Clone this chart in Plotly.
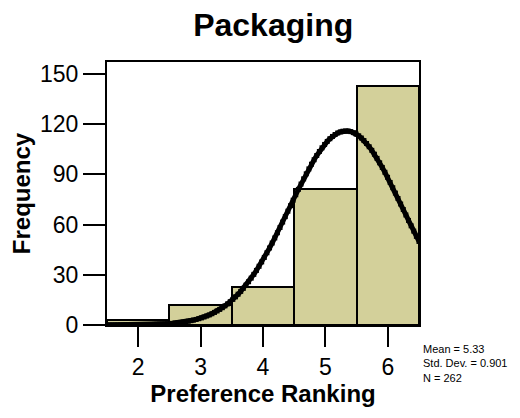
import numpy as np
import plotly.graph_objects as go

categories = [2, 3, 4, 5, 6]
frequencies = [3, 12, 23, 81, 143]
mean_val = 5.33
std_dev = 0.901
n_total = 262
y_ticks = [0, 30, 60, 90, 120, 150]
x_ticks = [2, 3, 4, 5, 6]

# normal curve fitted from the stated mean / sd / N (bin width 1)
xc = np.linspace(1.5, 6.5, 120)
yc = n_total * 1.0 / (std_dev * np.sqrt(2 * np.pi)) * np.exp(-0.5 * ((xc - mean_val) / std_dev) ** 2)

fig = go.Figure()
fig.add_trace(go.Bar(
    x=categories, y=frequencies, width=1.0,
    marker=dict(color="#D3D09A", line=dict(color="black", width=2)),
    showlegend=False,
))
fig.add_trace(go.Scatter(
    x=xc, y=yc, mode="lines+markers",
    line=dict(color="black", width=5),
    marker=dict(symbol="square", size=5, color="black"),
    showlegend=False,
))

font = "Liberation Sans, Arial, sans-serif"
fig.update_layout(
    width=512, height=410,
    margin=dict(l=99, r=101, t=54, b=93, autoexpand=False),
    paper_bgcolor="white", plot_bgcolor="white",
    bargap=0,
    title=dict(text="<b>Packaging</b>", x=0.518, xanchor="center", y=0.958, yanchor="middle",
               font=dict(family=font, size=32, color="black")),
    xaxis=dict(range=[1.5, 6.5], tickvals=x_ticks, ticks="outside", ticklen=20, tickwidth=2,
               tickcolor="black", showline=True, linecolor="black", linewidth=2, mirror=True,
               showgrid=False, zeroline=False,
               tickfont=dict(family=font, size=23, color="black"),
               title=dict(text="<b>Preference Ranking</b>", standoff=2,
                          font=dict(family=font, size=24, color="black"))),
    yaxis=dict(range=[0, 157.2], tickvals=y_ticks, ticks="outside", ticklen=22, tickwidth=2,
               tickcolor="black", showline=True, linecolor="black", linewidth=2, mirror=True,
               showgrid=False, zeroline=False,
               tickfont=dict(family=font, size=23, color="black"),
               title=dict(text="<b>Frequency</b>", standoff=10,
                          font=dict(family=font, size=24, color="black"))),
)

fig.add_annotation(
    text=f"Mean = {mean_val}<br>Std. Dev. = {std_dev}<br>N = {n_total}",
    xref="paper", yref="paper", x=1.005, y=-0.06, xanchor="left", yanchor="top",
    align="left", showarrow=False,
    font=dict(family=font, size=11, color="black"),
)

fig.write_html("out.html")
